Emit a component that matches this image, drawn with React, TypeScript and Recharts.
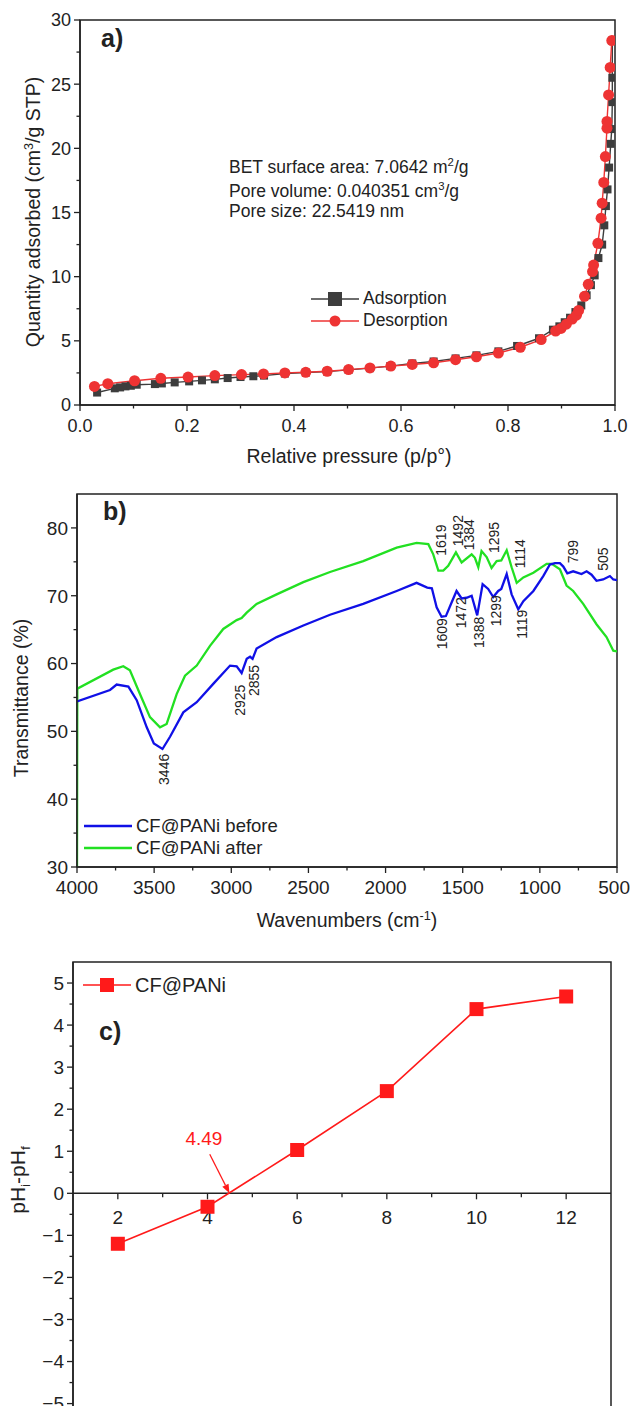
import React from "react";
import {
  LineChart,
  Line,
  XAxis,
  YAxis,
  ReferenceArea,
  ReferenceLine,
  ReferenceDot,
} from "recharts";

const FONT = "'Liberation Sans', Arial, Helvetica, sans-serif";
const INK = "#222";

// ---- a) N2 adsorption / desorption isotherm ----
const adsP = [0.032, 0.065, 0.075, 0.085, 0.095, 0.106, 0.14, 0.153, 0.177, 0.204, 0.228, 0.252, 0.276, 0.3, 0.324, 0.344, 0.383, 0.422, 0.462, 0.502, 0.542, 0.58, 0.621, 0.661, 0.702, 0.741, 0.782, 0.817, 0.858, 0.884, 0.896, 0.906, 0.916, 0.926, 0.937, 0.947, 0.955, 0.962, 0.969, 0.976, 0.98, 0.983, 0.986, 0.989, 0.992, 0.994, 0.995, 0.995, 0.995];
const adsQ = [0.97, 1.3, 1.37, 1.45, 1.5, 1.58, 1.63, 1.68, 1.76, 1.84, 1.92, 2.0, 2.1, 2.18, 2.24, 2.29, 2.45, 2.53, 2.6, 2.74, 2.87, 3.03, 3.24, 3.39, 3.63, 3.87, 4.18, 4.6, 5.2, 5.87, 6.13, 6.45, 6.8, 7.24, 7.76, 8.55, 9.34, 10.1, 11.45, 12.5, 14.0, 15.5, 16.8, 18.5, 20.35, 21.5, 23.6, 25.5, 28.4];
const desP = [0.027, 0.052, 0.102, 0.151, 0.202, 0.252, 0.302, 0.343, 0.383, 0.422, 0.462, 0.502, 0.542, 0.581, 0.621, 0.661, 0.702, 0.741, 0.782, 0.823, 0.862, 0.889, 0.899, 0.909, 0.92, 0.928, 0.932, 0.943, 0.95, 0.958, 0.96, 0.968, 0.974, 0.976, 0.979, 0.982, 0.985, 0.985, 0.988, 0.991, 0.994];
const desQ = [1.45, 1.66, 1.89, 2.08, 2.18, 2.29, 2.37, 2.42, 2.5, 2.55, 2.63, 2.76, 2.89, 3.03, 3.16, 3.29, 3.53, 3.76, 4.05, 4.5, 5.1, 5.76, 5.97, 6.3, 6.7, 7.0, 7.37, 8.47, 9.4, 10.4, 10.9, 12.6, 14.56, 15.73, 17.34, 19.36, 21.57, 22.1, 24.16, 26.3, 28.4];
const aXTicks = [0, 0.1, 0.2, 0.3, 0.4, 0.5, 0.6, 0.7, 0.8, 0.9, 1.0];
const aXMajor = [0, 0.2, 0.4, 0.6, 0.8, 1.0];
const aYTicks = [0, 2.5, 5, 7.5, 10, 12.5, 15, 17.5, 20, 22.5, 25, 27.5, 30];
const aYMajor = [0, 5, 10, 15, 20, 25, 30];

// ---- b) FTIR spectra ----
const beforeW = [4000, 3786, 3743, 3667, 3613, 3548, 3502, 3446, 3397, 3311, 3224, 3117, 3008, 2965, 2933, 2900, 2878, 2862, 2836, 2706, 2533, 2360, 2145, 1928, 1799, 1730, 1700, 1669, 1637, 1609, 1572, 1540, 1507, 1475, 1442, 1406, 1371, 1335, 1302, 1270, 1250, 1215, 1183, 1140, 1107, 1042, 978, 935, 902, 870, 848, 822, 784, 730, 697, 665, 633, 590, 546, 524, 500];
const beforeT = [54.4, 56.1, 56.9, 56.6, 54.6, 50.6, 48.2, 47.4, 49.2, 52.8, 54.3, 57.0, 59.7, 59.6, 58.6, 60.7, 61.0, 60.7, 62.2, 63.9, 65.6, 67.2, 68.8, 70.7, 71.9, 71.2, 71.1, 68.3, 66.9, 67.0, 69.0, 70.7, 69.6, 69.7, 70.0, 67.1, 71.7, 71.0, 69.8, 70.7, 71.0, 73.2, 70.2, 68.0, 69.2, 70.7, 72.9, 74.6, 74.8, 74.8, 74.3, 73.3, 73.6, 73.2, 73.6, 73.1, 72.2, 72.4, 72.9, 72.4, 72.3];
const afterW = [4000, 3998, 3765, 3700, 3657, 3592, 3527, 3462, 3419, 3354, 3300, 3224, 3138, 3052, 2965, 2933, 2900, 2836, 2706, 2533, 2360, 2145, 1928, 1799, 1723, 1691, 1658, 1626, 1594, 1544, 1507, 1442, 1421, 1399, 1378, 1345, 1313, 1280, 1250, 1215, 1183, 1150, 1107, 1042, 956, 923, 870, 827, 784, 719, 633, 568, 524, 500];
const afterT = [30, 56.3, 59.1, 59.6, 59.0, 55.5, 52.1, 50.6, 51.1, 55.5, 58.2, 59.7, 62.6, 65.1, 66.4, 66.7, 67.5, 68.8, 70.2, 72.0, 73.5, 75.1, 77.1, 77.8, 77.6, 76.1, 73.7, 73.7, 74.4, 76.4, 74.9, 76.1, 75.6, 74.2, 76.6, 75.7, 74.1, 75.1, 75.2, 76.7, 74.2, 71.9, 72.7, 73.4, 74.7, 74.7, 73.9, 71.5, 70.7, 68.8, 65.8, 63.9, 61.9, 61.8];
const peakText = ["1619", "1492", "1384", "1295", "1114", "799", "505", "1609", "1472", "1388", "1299", "1119", "2925", "2855", "3446"];
const peakAtW = [1641, 1533, 1458, 1298, 1129, 788, 593, 1636, 1513, 1397, 1287, 1118, 2944, 2851, 3436];
const peakAtT = [78.2, 79.6, 79.0, 78.6, 76.2, 76.5, 75.4, 64.4, 67.5, 64.6, 67.8, 65.8, 54.6, 57.5, 44.4];
const bXTicks = [500, 750, 1000, 1250, 1500, 1750, 2000, 2250, 2500, 2750, 3000, 3250, 3500, 3750, 4000];
const bXMajor = [500, 1000, 1500, 2000, 2500, 3000, 3500, 4000];
const bYTicks = [30, 35, 40, 45, 50, 55, 60, 65, 70, 75, 80];
const bYMajor = [30, 40, 50, 60, 70, 80];

// ---- c) point of zero charge ----
const pHi = [2, 4, 6, 8, 10, 12];
const dpH = [-1.2, -0.32, 1.03, 2.43, 4.38, 4.68];
const pzc = 4.49;
const cXMajor = [2, 4, 6, 8, 10, 12];
const cXMinor = [3, 5, 7, 9, 11];
const cYTicks = [-5, -4.5, -4, -3.5, -3, -2.5, -2, -1.5, -1, -0.5, 0, 0.5, 1, 1.5, 2, 2.5, 3, 3.5, 4, 4.5, 5];
const cYMajor = [-5, -4, -3, -2, -1, 0, 1, 2, 3, 4, 5];

const zip = (xs: number[], ys: number[]) => xs.map((x, i) => ({ x, y: ys[i] }));
const isIn = (arr: number[], v: number) => arr.some((m) => Math.abs(m - v) < 1e-9);

function bottomTick(majors: number[], fmt: (v: number) => string, fs: number, edgeRight = 10000) {
  return (p: any) => {
    const v = p.payload.value;
    const major = isIn(majors, v);
    const label = fmt(v);
    // keep the last label inside the page
    const half = (label.length * fs * 0.556) / 2;
    const tx = Math.min(p.x, edgeRight - half);
    return (
      <g>
        <line x1={p.x} x2={p.x} y1={p.y} y2={p.y + (major ? 6 : 3.5)} stroke={INK} strokeWidth={1.3} />
        {major && (
          <text x={tx} y={p.y + 27} textAnchor="middle" fontSize={fs} fill={INK} fontFamily={FONT}>
            {label}
          </text>
        )}
      </g>
    );
  };
}

function leftTick(majors: number[], fmt: (v: number) => string, fs: number) {
  return (p: any) => {
    const v = p.payload.value;
    const major = isIn(majors, v);
    return (
      <g>
        <line x1={p.x - (major ? 6 : 3.5)} x2={p.x} y1={p.y} y2={p.y} stroke={INK} strokeWidth={1.3} />
        {major && (
          <text x={p.x - 9} y={p.y} dy="0.36em" textAnchor="end" fontSize={fs} fill={INK} fontFamily={FONT}>
            {fmt(v)}
          </text>
        )}
      </g>
    );
  };
}

const squareDot = (size: number, color: string) => (p: any) => (
  <rect key={p.index} x={p.cx - size / 2} y={p.cy - size / 2} width={size} height={size} fill={color} />
);
const circleDot = (r: number, color: string) => (p: any) => (
  <circle key={p.index} cx={p.cx} cy={p.cy} r={r} fill={color} />
);

const abs = (left: number, top: number, extra: React.CSSProperties = {}): React.CSSProperties => ({
  position: "absolute",
  left,
  top,
  fontFamily: FONT,
  color: INK,
  whiteSpace: "nowrap",
  lineHeight: 1,
  ...extra,
});

function VTitle({ cx, cy, size, children }: { cx: number; cy: number; size: number; children: React.ReactNode }) {
  return (
    <div style={abs(cx, cy, { fontSize: size, transform: "translate(-50%, -50%) rotate(-90deg)" })}>{children}</div>
  );
}
function HTitle({ cx, cy, size, children }: { cx: number; cy: number; size: number; children: React.ReactNode }) {
  return <div style={abs(cx, cy, { fontSize: size, transform: "translate(-50%, -50%)" })}>{children}</div>;
}

function LegendRow({ left, cy, color, marker, label, size }: { left: number; cy: number; color: string; marker: "square" | "circle" | "none"; label: string; size: number }) {
  return (
    <div style={abs(left, cy - 12, { display: "flex", alignItems: "center", height: 24, fontSize: size })}>
      <svg width={48} height={24} style={{ marginRight: 4 }}>
        <line x1={0} x2={48} y1={12} y2={12} stroke={color} strokeWidth={marker === "none" ? 2.5 : 1.5} />
        {marker === "square" && <rect x={17} y={5} width={14} height={14} fill={color} />}
        {marker === "circle" && <circle cx={24} cy={12} r={5.5} fill={color} />}
      </svg>
      <span>{label}</span>
    </div>
  );
}

const sup = { fontSize: "0.65em", verticalAlign: "super" } as React.CSSProperties;
const sub = { fontSize: "0.65em", verticalAlign: "sub" } as React.CSSProperties;

export default function App() {
  const ads = zip(adsP, adsQ);
  const des = zip(desP, desQ);
  const before = zip(beforeW, beforeT);
  const after = zip(afterW, afterT);
  const phData = zip(pHi, dpH);

  return (
    <div style={{ position: "absolute", left: 0, top: 0, width: 631, height: 1406, overflow: "hidden", background: "#fff" }}>
      {/* a) */}
      <div style={{ position: "absolute", left: 0, top: 0 }}>
        <LineChart width={631} height={470} margin={{ top: 20, right: 16, left: 0, bottom: 0 }}>
          <XAxis dataKey="x" type="number" domain={[0, 1]} ticks={aXTicks} interval={0} tickSize={0} tickMargin={0} tickLine={false} height={65} axisLine={{ stroke: INK, strokeWidth: 1.5 }} tick={bottomTick(aXMajor, (v) => v.toFixed(1), 18, 630)} allowDataOverflow />
          <YAxis type="number" domain={[0, 30]} ticks={aYTicks} interval={0} tickSize={0} tickMargin={0} tickLine={false} width={80} axisLine={{ stroke: INK, strokeWidth: 1.5 }} tick={leftTick(aYMajor, (v) => String(v), 18)} allowDataOverflow />
          <ReferenceArea x1={0} x2={1} y1={0} y2={30} fill="none" stroke={INK} strokeWidth={1.5} />
          <Line data={ads} dataKey="y" stroke="#3d3d3d" strokeWidth={1.4} dot={squareDot(8, "#3d3d3d")} isAnimationActive={false} />
          <Line data={des} dataKey="y" stroke="#ee3333" strokeWidth={1.4} dot={circleDot(5.5, "#ee3333")} isAnimationActive={false} />
        </LineChart>
      </div>
      <div style={abs(101, 26, { fontSize: 25, fontWeight: "bold" })}>a)</div>
      <div style={abs(229, 157, { fontSize: 17.5 })}>
        BET surface area: 7.0642 m<span style={sup}>2</span>/g
      </div>
      <div style={abs(229, 181, { fontSize: 17.5 })}>
        Pore volume: 0.040351 cm<span style={sup}>3</span>/g
      </div>
      <div style={abs(229, 203, { fontSize: 17.5 })}>Pore size: 22.5419 nm</div>
      <LegendRow left={311} cy={299} color="#3d3d3d" marker="square" label="Adsorption" size={17.5} />
      <LegendRow left={311} cy={321} color="#ee3333" marker="circle" label="Desorption" size={17.5} />
      <VTitle cx={33} cy={212} size={19.5}>
        Quantity adsorbed (cm<span style={sup}>3</span>/g STP)
      </VTitle>
      <HTitle cx={349} cy={457} size={19.5}>Relative pressure (p/p°)</HTitle>

      {/* b) */}
      <div style={{ position: "absolute", left: 0, top: 470 }}>
        <LineChart width={631} height={470} margin={{ top: 24, right: 14, left: 0, bottom: 0 }}>
          <XAxis dataKey="x" type="number" domain={[500, 4000]} reversed ticks={bXTicks} interval={0} tickSize={0} tickMargin={0} tickLine={false} height={73} axisLine={{ stroke: INK, strokeWidth: 1.5 }} tick={bottomTick(bXMajor, (v) => String(v), 19, 630)} allowDataOverflow />
          <YAxis type="number" domain={[30, 85]} ticks={bYTicks} interval={0} tickSize={0} tickMargin={0} tickLine={false} width={77} axisLine={{ stroke: INK, strokeWidth: 1.5 }} tick={leftTick(bYMajor, (v) => String(v), 19)} allowDataOverflow />
          <ReferenceArea x1={500} x2={4000} y1={30} y2={85} fill="none" stroke={INK} strokeWidth={1.5} />
          <Line data={after} dataKey="y" stroke="#22e022" strokeWidth={2.3} dot={false} isAnimationActive={false} />
          <Line data={before} dataKey="y" stroke="#1010e6" strokeWidth={2.3} dot={false} isAnimationActive={false} />
          {peakText.map((t, i) => (
            <ReferenceDot
              key={t + i}
              x={peakAtW[i]}
              y={peakAtT[i]}
              r={0}
              shape={(p: any) => (
                <text transform={`rotate(-90 ${p.cx} ${p.cy})`} x={p.cx} y={p.cy} dy="0.36em" textAnchor="middle" fontSize={14} fill={INK} fontFamily={FONT}>
                  {t}
                </text>
              )}
            />
          ))}
        </LineChart>
      </div>
      <div style={abs(103, 499, { fontSize: 25, fontWeight: "bold" })}>b)</div>
      <LegendRow left={84} cy={826} color="#1010e6" marker="none" label="CF@PANi before" size={18.5} />
      <LegendRow left={84} cy={848} color="#22e022" marker="none" label="CF@PANi after" size={18.5} />
      <VTitle cx={22} cy={698} size={19.5}>Transmittance (%)</VTitle>
      <HTitle cx={347} cy={920} size={19.5}>
        Wavenumbers (cm<span style={sup}>-1</span>)
      </HTitle>

      {/* c) */}
      <div style={{ position: "absolute", left: 0, top: 940 }}>
        <LineChart width={631} height={472} margin={{ top: 22, right: 20, left: 0, bottom: 0 }}>
          <XAxis dataKey="x" type="number" domain={[1, 13]} hide allowDataOverflow />
          <YAxis type="number" domain={[-5.2, 5.5]} ticks={cYTicks} interval={0} tickSize={0} tickMargin={0} tickLine={false} width={73} axisLine={{ stroke: INK, strokeWidth: 1.5 }} tick={leftTick(cYMajor, (v) => (v < 0 ? "\u2212" + Math.abs(v) : String(v)), 19)} allowDataOverflow />
          <ReferenceArea x1={1} x2={13} y1={-5.2} y2={5.5} fill="none" stroke={INK} strokeWidth={1.5} />
          <ReferenceLine y={0} stroke={INK} strokeWidth={1.5} />
          {cXMajor.concat(cXMinor).map((v) => (
            <ReferenceDot
              key={"t" + v}
              x={v}
              y={0}
              r={0}
              shape={(p: any) => (
                <g>
                  <line x1={p.cx} x2={p.cx} y1={p.cy} y2={p.cy + (isIn(cXMajor, v) ? 6 : 4)} stroke={INK} strokeWidth={1.3} />
                  {isIn(cXMajor, v) && (
                    <text x={p.cx} y={p.cy + 31} textAnchor="middle" fontSize={19} fill={INK} fontFamily={FONT}>
                      {v}
                    </text>
                  )}
                </g>
              )}
            />
          ))}
          <Line data={phData} dataKey="y" stroke="#ff1a1a" strokeWidth={1.6} dot={squareDot(14, "#ff1a1a")} isAnimationActive={false} />
          <ReferenceLine
            segment={[{ x: 4.05, y: 0.93 }, { x: pzc, y: 0 }]}
            shape={(p: any) => {
              const ang = Math.atan2(p.y2 - p.y1, p.x2 - p.x1);
              const L = 9;
              const W = 3.5;
              const bx = p.x2 - L * Math.cos(ang);
              const by = p.y2 - L * Math.sin(ang);
              const nx = -Math.sin(ang) * W;
              const ny = Math.cos(ang) * W;
              return (
                <g>
                  <line x1={p.x1} y1={p.y1} x2={bx} y2={by} stroke="#ff1a1a" strokeWidth={1.3} />
                  <polygon points={`${p.x2},${p.y2} ${bx + nx},${by + ny} ${bx - nx},${by - ny}`} fill="#ff1a1a" />
                </g>
              );
            }}
          />
          <ReferenceDot
            x={3.92}
            y={1.31}
            r={0}
            shape={(p: any) => (
              <text x={p.cx} y={p.cy} dy="0.36em" textAnchor="middle" fontSize={19} fill="#ff1a1a" fontFamily={FONT}>
                {String(pzc)}
              </text>
            )}
          />
        </LineChart>
      </div>
      <div style={abs(99, 1019, { fontSize: 25, fontWeight: "bold" })}>c)</div>
      <LegendRow left={83} cy={985} color="#ff1a1a" marker="square" label="CF@PANi" size={20} />
      <VTitle cx={20} cy={1180} size={21}>
        pH<span style={sub}>i</span>-pH<span style={sub}>f</span>
      </VTitle>
    </div>
  );
}
